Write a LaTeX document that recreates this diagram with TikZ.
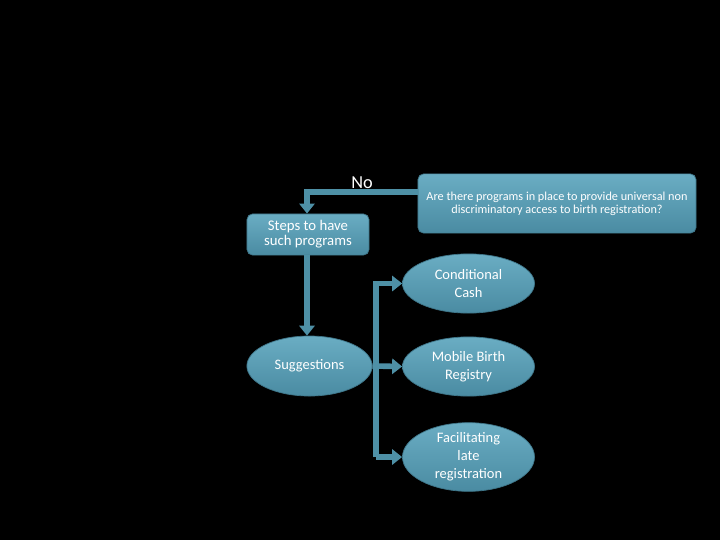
\documentclass[tikz,border=0pt]{standalone}
\usepackage{fontspec}
\setmainfont{Carlito}
\usetikzlibrary{arrows.meta,shapes.geometric}

\definecolor{tealtop}{HTML}{6AADC3}
\definecolor{tealbot}{HTML}{4A8BA2}
\definecolor{tealedge}{HTML}{3E7588}
\definecolor{tealarrow}{HTML}{4E90A6}

\tikzset{
  box/.style={draw=tealedge, line width=0.5pt, rounded corners=4pt,
    top color=tealtop, bottom color=tealbot, text=white, align=center, inner sep=0pt},
  oval/.style={ellipse, draw=tealedge, line width=0.5pt,
    top color=tealtop, bottom color=tealbot, text=white, align=center, inner sep=0pt,
    minimum width=3.3cm, minimum height=1.48cm,
    font=\fontsize{10.3}{12.8}\selectfont},
  fat/.style={draw=tealarrow, line width=4pt, line join=miter,
    -{Triangle[length=0.25cm, width=0.38cm]}}
}

\begin{document}
\begin{tikzpicture}[x=0.025cm, y=-0.025cm]
  \fill[black] (0,0) rectangle (720,540);

  % boxes on top
  \node[box, minimum width=6.95cm, minimum height=1.48cm,
        font=\fontsize{8.7}{9.4}\selectfont] (question) at (557,203.5)
        {Are there programs in place to provide universal non\\discriminatory access to birth registration?};
  \node[box, minimum width=3.05cm, minimum height=1.03cm,
        font=\fontsize{10.5}{10.8}\selectfont] (steps) at (308,234.5)
        {Steps to have\\such programs};

  % ovals
  \node[oval, minimum width=3.13cm, minimum height=1.5cm] (sugg) at (309.5,366) {Suggestions};
  \node[oval] (cash) at (468.5,283.5) {Conditional\\Cash};
  \node[oval] (mobile) at (468.5,366.5) {Mobile Birth\\Registry};
  \node[oval, minimum height=1.5cm] (late) at (468.5,457) {Facilitating\\late\\registration};

  % the No branch
  \coordinate (bend) at (307,192);
  \draw[fat] (question.west |- bend) -- (bend) -- (steps.north -| bend);
  \node[text=white, font=\fontsize{13}{15}\selectfont, anchor=base] (no) at (362,188) {No};

  \draw[fat] (steps.south -| bend) -- (sugg.north -| bend);

  % bracket to the three suggestions
  \coordinate (bar) at (376,366);
  \draw[fat] (bar |- late.west) -- (bar |- cash.west) -- (cash.west);
  \draw[fat] (sugg.east) -- (mobile.west);
  \draw[fat] (bar |- late.west) -- (late.west);
\end{tikzpicture}
\end{document}
